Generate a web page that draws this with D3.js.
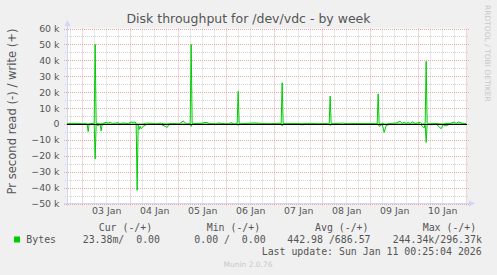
<!DOCTYPE html>
<html>
<head>
<meta charset="utf-8">
<script src="https://cdn.jsdelivr.net/npm/d3@7"></script>
<style>
  body { margin: 0; background: #f0f0f0; }
  svg { display: block; }
  text { font-family: "DejaVu Sans", sans-serif; }
  .mono { font-family: "DejaVu Sans Mono", monospace; white-space: pre; }
</style>
</head>
<body>
<svg id="chart"></svg>
<script>
const width = 497;
const height = 275;

// sample times (day of Jan 2026 + hh:mm), write and read in bytes/s
const times = ["02 16:30","02 20:00","02 23:00","03 02:30","03 03:00","03 03:30","03 05:30","03 06:00","03 06:30","03 07:00",
  "03 08:00","03 09:00","03 09:30","03 10:00","03 12:00","03 13:00","03 14:00","03 15:00","03 18:00","03 19:00",
  "03 20:00","03 23:00","04 00:30","04 01:30","04 02:30","04 03:00","04 03:30","04 04:00","04 04:30","04 05:00",
  "04 05:30","04 06:30","04 07:30","04 08:30","04 11:00","04 13:00","04 15:00","04 17:30","04 18:30","04 19:30",
  "04 22:00","05 00:30","05 02:30","05 03:00","05 04:00","05 06:00","05 06:30","05 07:00","05 09:00","05 12:00",
  "05 14:00","05 16:00","05 19:00","05 20:00","05 23:00","06 01:00","06 02:30","06 04:00","06 05:30","06 06:00",
  "06 06:30","06 08:00","06 12:00","06 14:00","06 16:00","06 18:00","06 22:00","07 01:00","07 02:30","07 03:30",
  "07 04:00","07 04:30","07 06:00","07 10:00","07 14:00","07 18:00","07 22:00","08 01:00","08 03:30","08 04:00",
  "08 04:30","08 06:00","08 10:00","08 13:00","08 18:00","08 22:00","09 01:00","09 03:30","09 04:00","09 04:30",
  "09 05:30","09 06:00","09 07:00","09 08:00","09 10:00","09 13:00","09 15:00","09 16:00","09 17:00","09 18:00",
  "09 19:00","09 20:00","09 21:00","09 22:30","10 01:00","10 02:00","10 03:00","10 03:30","10 04:00","10 04:30",
  "10 06:00","10 09:00","10 11:30","10 12:30","10 14:00","10 16:00","10 18:00","10 19:00","10 20:00","10 22:00",
  "11 00:00"];
const writeBytes = [300,400,200,0,0,0,300,0,50000,0,
  500,0,0,200,1000,500,1200,300,800,0,
  600,300,1200,1000,1200,0,0,0,0,0,
  0,0,300,500,400,0,500,0,0,200,
  300,0,1800,1500,0,0,50000,0,300,500,
  1000,200,0,600,200,0,800,0,0,20500,
  0,200,500,600,500,300,100,300,500,0,
  25900,0,300,300,200,400,100,300,0,17500,
  0,300,500,200,300,200,300,0,18900,0,
  0,500,0,0,300,600,1700,300,1200,300,
  1000,200,1300,300,1000,0,0,0,39400,0,
  200,300,0,0,300,300,1200,300,1200,500,
  300];
const readBytes = [0,0,0,0,4800,0,0,0,22000,0,
  1200,0,4400,0,0,0,0,200,0,0,
  0,0,0,0,0,0,41700,0,3500,1500,
  3000,1500,800,200,0,0,0,1500,2200,0,
  0,0,0,0,0,0,1500,0,0,0,
  0,0,0,0,0,0,0,0,0,900,
  0,0,0,0,0,0,0,0,0,0,
  1200,0,0,0,500,0,0,0,0,1000,
  0,0,300,0,0,0,200,0,0,1500,
  800,0,5300,1000,0,0,0,0,0,0,
  0,0,0,0,0,1200,2500,0,11600,0,
  500,0,3000,500,1200,0,0,0,0,0,
  0];

const yTicks = [-50000,-40000,-30000,-20000,-10000,0,10000,20000,30000,40000,50000,60000];
const dayLabels = ["03 Jan","04 Jan","05 Jan","06 Jan","07 Jan","08 Jan","09 Jan","10 Jan"];
const legendHead = ["Cur (-/+)","Min (-/+)","Avg (-/+)","Max (-/+)"];
const legendVals = ["23.38m/  0.00","0.00 /  0.00","442.98 /686.57","244.34k/296.37k"];

const parseTime = d3.timeParse("%Y-%m-%d %H:%M:%S");
const parseSample = s => d3.timeParse("%Y-%m-%d %H:%M")("2026-01-" + s);
const start = parseTime("2026-01-02 16:25:04");
const end = parseTime("2026-01-11 00:25:04");

const svg = d3.select('#chart')
  .attr('width', width)
  .attr('height', height);

svg.append('rect')
  .attr('width', width)
  .attr('height', height)
  .attr('fill', '#f0f0f0');

const xScale = d3.scaleTime().domain([start, end]).range([67, 467]);
const yScale = d3.scaleLinear().domain([-50000, 60000]).range([203.5, 28.5]);

// canvas
svg.append('rect')
  .attr('x', 67).attr('y', 28.5)
  .attr('width', 400).attr('height', 175)
  .attr('fill', '#ffffff');

// minor grid (6 hours / 5k)
const grid = svg.append('g');
const minorX = d3.timeHour.every(6).range(start, end).filter(d => d.getHours() != 0);
grid.selectAll('.vminor').data(minorX).enter().append('line')
  .attr('x1', d => Math.round(xScale(d)) + 0.5).attr('x2', d => Math.round(xScale(d)) + 0.5)
  .attr('y1', 28.5).attr('y2', 205)
  .attr('stroke', '#d2d2d2').attr('stroke-dasharray', '1,1');
const minorY = yTicks.slice(0, -1).map(v => v + 5000);
grid.selectAll('.hminor').data(minorY).enter().append('line')
  .attr('x1', 65).attr('x2', 469)
  .attr('y1', d => Math.round(yScale(d)) + 0.5).attr('y2', d => Math.round(yScale(d)) + 0.5)
  .attr('stroke', '#d2d2d2').attr('stroke-dasharray', '1,1');

// major grid (midnight / 10k)
const majorX = d3.timeDay.range(start, end);
grid.selectAll('.vmajor').data(majorX).enter().append('line')
  .attr('x1', d => Math.round(xScale(d)) + 0.5).attr('x2', d => Math.round(xScale(d)) + 0.5)
  .attr('y1', 28.5).attr('y2', 206)
  .attr('stroke', '#e8a8a8').attr('stroke-dasharray', '1,1');
grid.selectAll('.hmajor').data(yTicks).enter().append('line')
  .attr('x1', 64).attr('x2', 470)
  .attr('y1', d => Math.round(yScale(d)) + 0.5).attr('y2', d => Math.round(yScale(d)) + 0.5)
  .attr('stroke', '#e8a8a8').attr('stroke-dasharray', '1,1');

// axes lines and arrows
const axisColor = '#cfd6f8';
svg.append('line').attr('x1', 67.5).attr('x2', 67.5).attr('y1', 206).attr('y2', 24)
  .attr('stroke', axisColor);
svg.append('line').attr('x1', 64).attr('x2', 470).attr('y1', 203.5).attr('y2', 203.5)
  .attr('stroke', axisColor);
svg.append('path').attr('d', 'M64.5,26 L67.5,20 L70.5,26 Z').attr('fill', axisColor);
svg.append('path').attr('d', 'M469,200.5 L475,203.5 L469,206.5 Z').attr('fill', axisColor);

// tick labels
const yAxis = d3.axisLeft(yScale)
  .tickValues(yTicks)
  .tickSize(0)
  .tickPadding(0)
  .tickFormat(d => d == 0 ? '0' : d3.format('d')(d / 1000) + ' k');
svg.append('g')
  .attr('transform', 'translate(59.5,0)')
  .call(yAxis)
  .call(g => g.select('.domain').remove())
  .selectAll('text')
  .attr('fill', '#555')
  .style('font-family', '"DejaVu Sans", sans-serif')
  .style('font-size', '9.4px');

const noons = majorX.map(d => d3.timeHour.offset(d, 12));
const xAxis = d3.axisBottom(xScale)
  .tickValues(noons)
  .tickSize(0)
  .tickPadding(0)
  .tickFormat((d, i) => dayLabels[i]);
svg.append('g')
  .attr('transform', 'translate(0,207)')
  .call(xAxis)
  .call(g => g.select('.domain').remove())
  .selectAll('text')
  .attr('fill', '#555')
  .style('font-family', '"DejaVu Sans", sans-serif')
  .style('font-size', '9.4px');

// data lines
const samples = times.map((t, i) => ({ t: parseSample(t), w: writeBytes[i], r: readBytes[i] }));
const plot = svg.append('g');
plot.append('path')
  .datum(samples)
  .attr('d', d3.line().x(d => xScale(d.t)).y(d => yScale(-d.r)))
  .attr('fill', 'none').attr('stroke', '#00cc00').attr('stroke-width', 1);
plot.append('path')
  .datum(samples)
  .attr('d', d3.line().x(d => xScale(d.t)).y(d => yScale(d.w)))
  .attr('fill', 'none').attr('stroke', '#00cc00').attr('stroke-width', 1);

// zero rule
svg.append('line')
  .attr('x1', 67).attr('x2', 467)
  .attr('y1', Math.round(yScale(0)) + 0.5).attr('y2', Math.round(yScale(0)) + 0.5)
  .attr('stroke', '#000');

// title and labels
svg.append('text')
  .attr('x', 248.5).attr('y', 23)
  .attr('text-anchor', 'middle')
  .attr('fill', '#555')
  .style('font-size', '12.5px')
  .text('Disk throughput for /dev/vdc - by week');

svg.append('text')
  .attr('transform', 'translate(15.5,111.5) rotate(-90)')
  .attr('text-anchor', 'middle')
  .attr('fill', '#555')
  .style('font-size', '11.6px')
  .text('Pr second read (-) / write (+)');

svg.append('text')
  .attr('transform', 'translate(485,5) rotate(90)')
  .attr('fill', '#c8c8c8')
  .style('font-size', '7.5px')
  .text('RRDTOOL / TOBI OETIKER');

// legend
const headX = [98.7, 206.7, 315, 422.7];
const valX = [82.7, 194.3, 287.3, 392.7];
svg.selectAll('.lhead').data(legendHead).enter().append('text')
  .attr('class', 'mono')
  .attr('x', (d, i) => headX[i]).attr('y', 231.3)
  .attr('fill', '#555')
  .style('font-size', '9.9px')
  .text(d => d);

svg.append('rect')
  .attr('x', 14).attr('y', 236.5).attr('width', 6).attr('height', 6)
  .attr('fill', '#00cc00');
svg.append('text')
  .attr('class', 'mono')
  .attr('x', 26.3).attr('y', 243.3)
  .attr('fill', '#555')
  .style('font-size', '9.9px')
  .text('Bytes');
svg.selectAll('.lval').data(legendVals).enter().append('text')
  .attr('class', 'mono')
  .attr('x', (d, i) => valX[i]).attr('y', 243.3)
  .attr('fill', '#555')
  .style('font-size', '9.9px')
  .text(d => d);

svg.append('text')
  .attr('class', 'mono')
  .attr('x', 261.7).attr('y', 254.5)
  .attr('fill', '#555')
  .style('font-size', '9.9px')
  .text('Last update: Sun Jan 11 00:25:04 2026');

svg.append('text')
  .attr('x', 248).attr('y', 267.3)
  .attr('text-anchor', 'middle')
  .attr('fill', '#c8c8c8')
  .style('font-size', '7.5px')
  .text('Munin 2.0.76');
</script>
</body>
</html>
